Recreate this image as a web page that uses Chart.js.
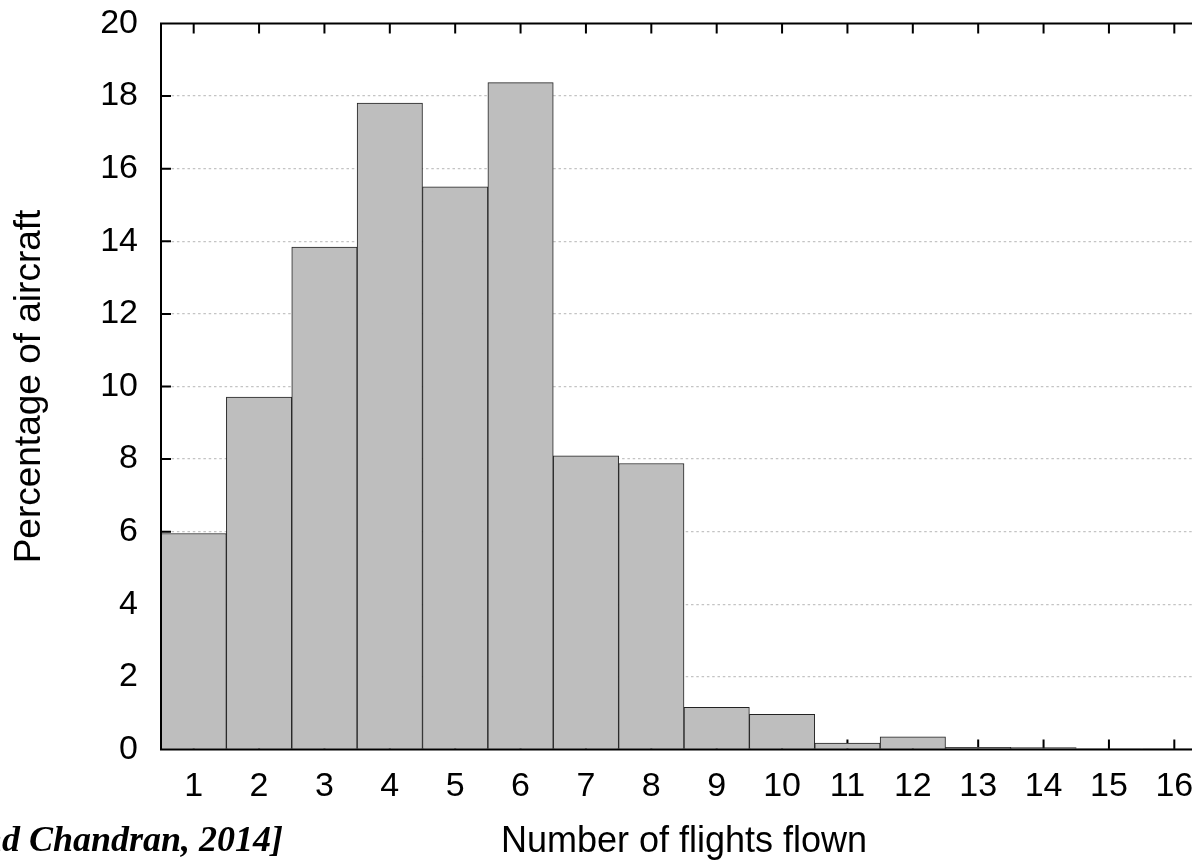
<!DOCTYPE html>
<html><head><meta charset="utf-8">
<script src="https://cdn.jsdelivr.net/npm/chart.js@4.4.0/dist/chart.umd.min.js"></script>
<style>
html,body{margin:0;padding:0;background:#fff;overflow:hidden;width:1192px;height:862px}
#wrap{position:relative;width:1240px;height:862px}
</style></head><body>
<div id="wrap"><canvas id="c"></canvas></div>
<script>
const categories = ['1','2','3','4','5','6','7','8','9','10','11','12','13','14','15','16'];
const percentValues = [5.95, 9.71, 13.84, 17.81, 15.5, 18.37, 8.09, 7.88, 1.16, 0.97, 0.18, 0.35, 0.06, 0.05, 0.02, 0.02];
const yTickValues = [0, 2, 4, 6, 8, 10, 12, 14, 16, 18, 20];
const xTitle = 'Number of flights flown';
const yTitle = 'Percentage of aircraft';
const citation = 'and Chandran, 2014]';

const FONT = '"Liberation Sans", Arial, Helvetica, sans-serif';

const framePlugin = {
  id: 'frame',
  beforeDatasetsDraw(chart) {
    const {ctx, chartArea: a, scales: {x, y}} = chart;
    ctx.save();
    ctx.strokeStyle = '#000';
    ctx.lineWidth = 2;
    ctx.beginPath();
    x.ticks.forEach((t, i) => {
      const px = x.getPixelForTick(i);
      ctx.moveTo(px, a.bottom); ctx.lineTo(px, a.bottom - 10);
      ctx.moveTo(px, a.top); ctx.lineTo(px, a.top + 10);
    });
    y.ticks.forEach((t, i) => {
      if (t.value === 0 || t.value === 20) return;
      const py = y.getPixelForTick(i);
      ctx.moveTo(a.left, py); ctx.lineTo(a.left + 10, py);
    });
    ctx.stroke();
    ctx.restore();
  },
  afterDatasetsDraw(chart) {
    const {ctx, chartArea: a} = chart;
    ctx.save();
    ctx.strokeStyle = '#000';
    ctx.lineWidth = 2;
    ctx.beginPath();
    ctx.moveTo(a.right + 5, a.top);
    ctx.lineTo(a.left, a.top);
    ctx.lineTo(a.left, a.bottom);
    ctx.lineTo(a.right + 5, a.bottom);
    ctx.stroke();
    ctx.restore();
  },
  afterDraw(chart) {
    const ctx = chart.ctx;
    ctx.save();
    ctx.font = 'italic bold 36px "Liberation Serif", "Times New Roman", serif';
    ctx.fillStyle = '#000';
    ctx.textAlign = 'right';
    ctx.textBaseline = 'alphabetic';
    ctx.fillText(citation, 283, 851);
    ctx.restore();
  }
};

new Chart(document.getElementById('c'), {
  type: 'bar',
  data: {
    labels: categories,
    datasets: [{
      data: percentValues,
      backgroundColor: '#bebebe',
      borderColor: '#222',
      borderWidth: 1,
      categoryPercentage: 1,
      barPercentage: 1
    }]
  },
  options: {
    responsive: true,
    maintainAspectRatio: false,
    animation: false,
    devicePixelRatio: 1,
    layout: {padding: {top: 23.5, right: 33, left: 0, bottom: 0}},
    plugins: {legend: {display: false}, tooltip: {enabled: false}},
    scales: {
      x: {
        type: 'category',
        grid: {display: false, drawTicks: false},
        border: {display: false},
        ticks: {font: {family: FONT, size: 34}, color: '#000', padding: 17, maxRotation: 0, autoSkip: false},
        title: {display: true, text: xTitle, color: '#000', font: {family: FONT, size: 36, lineHeight: 1}, padding: {top: 0, bottom: 2}},
        afterFit(s) { s.height = 112.5; s.paddingLeft = 0; s.paddingRight = 0; }
      },
      y: {
        min: 0, max: 20,
        afterBuildTicks(s) { s.ticks = yTickValues.map(v => ({value: v})); },
        grid: {
          drawTicks: false,
          lineWidth: 1.3,
          color: c => (c.tick && (c.tick.value === 0 || c.tick.value === 20)) ? 'rgba(0,0,0,0)' : '#c4c4c4'
        },
        border: {display: false, dash: [2.5, 2.8]},
        ticks: {font: {family: FONT, size: 34}, color: '#000', padding: 23},
        title: {display: true, text: yTitle, color: '#000', font: {family: FONT, size: 37, lineHeight: 1.2}, padding: {top: 8, bottom: 0}},
        afterFit(s) { s.width = 161; s.paddingTop = 0; s.paddingBottom = 0; }
      }
    }
  },
  plugins: [framePlugin]
});
</script>
</body></html>
